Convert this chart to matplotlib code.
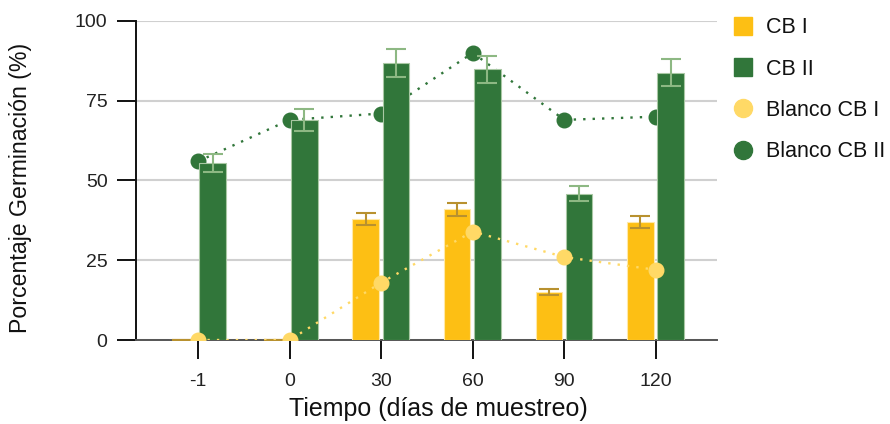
import matplotlib
matplotlib.use("Agg")
import matplotlib.pyplot as plt
from matplotlib.lines import Line2D
import numpy as np

plt.rcParams['font.family'] = ['Liberation Sans', 'DejaVu Sans']

# Sampling times (days) and germination percentages
categories = ["-1", "0", "30", "60", "90", "120"]
cb1 = [0, 0, 37.8, 41.0, 15.0, 37.0]
cb1_err = [0, 0, 1.9, 2.0, 0.85, 1.9]
cb2 = [55.5, 69.0, 86.7, 84.8, 45.9, 83.8]
cb2_err = [2.8, 3.4, 4.4, 4.2, 2.4, 4.2]
blanco_cb1 = [0, 0, 18, 34, 26, 22]
blanco_cb2 = [56, 69, 71, 90, 69, 70]
y_ticks = [0, 25, 50, 75, 100]

yellow = "#FDBF14"
green = "#31763A"
yellow_light = "#FFD966"
yellow_err = "#B8912F"
green_err = "#8DB883"

fig = plt.figure(figsize=(8.9, 4.24), dpi=100)
ax = fig.add_axes([0.1528, 0.1981, 0.6528, 0.7524])

x = np.arange(len(categories))
bw = 0.29
x_cb1 = x - 0.025 - bw / 2
x_cb2 = x + 0.015 + bw / 2

# Blanco CB II line sits behind the bars
ax.plot(x, blanco_cb2, linestyle=(0, (1, 3)), color=green, lw=1.7,
        marker="o", markersize=10.5, markerfacecolor=green,
        markeredgecolor=green, zorder=2)

ax.bar(x_cb1, cb1, width=bw, color=yellow,
       edgecolor="#FFE9A8", linewidth=0.8, zorder=3)
ax.bar(x_cb2, cb2, width=bw, color=green,
       edgecolor="#A9C8A4", linewidth=0.8, zorder=3)

ax.errorbar(x_cb1, cb1, yerr=cb1_err, fmt="none",
            ecolor=yellow_err, elinewidth=1.5, capsize=7, capthick=1.5,
            zorder=4)
ax.errorbar(x_cb2, cb2, yerr=cb2_err, fmt="none",
            ecolor=green_err, elinewidth=1.5, capsize=7, capthick=1.5,
            zorder=4)

# Blanco CB I line drawn over the bars
ax.plot(x, blanco_cb1, linestyle=(0, (1, 3)), color=yellow_light, lw=1.7,
        marker="o", markersize=10.5, markerfacecolor=yellow_light,
        markeredgecolor=yellow_light, zorder=5)

ax.set_xlim(-0.677, 5.666)
ax.set_ylim(0, 100)
ax.set_xticks(x)
ax.set_xticklabels(categories)
ax.set_yticks(y_ticks)
ax.yaxis.grid(True, color="#D0D0D0", lw=1.5)
ax.set_axisbelow(True)

for s in ["top", "right"]:
    ax.spines[s].set_visible(False)
ax.spines["left"].set_color("#111111")
ax.spines["left"].set_linewidth(1.4)
ax.spines["bottom"].set_color("#555555")
ax.spines["bottom"].set_linewidth(1.4)
ax.tick_params(axis="both", direction="out", length=13.5, width=1.4,
               color="#111111", labelsize=14, labelcolor="#222222")
ax.tick_params(axis="y", pad=7)
ax.tick_params(axis="x", pad=10.5)

ax.set_xlabel("Tiempo (días de muestreo)", fontsize=18, color="#111111")
ax.xaxis.set_label_coords(0.52, -0.178)
ax.set_ylabel("Porcentaje Germinación (%)", fontsize=16.7, color="#111111")
ax.yaxis.set_label_coords(-0.179, 0.478)

handles = [
    Line2D([], [], linestyle="none", marker="s", markersize=13,
           markerfacecolor=yellow, markeredgecolor=yellow),
    Line2D([], [], linestyle="none", marker="s", markersize=13,
           markerfacecolor=green, markeredgecolor=green),
    Line2D([], [], linestyle="none", marker="o", markersize=13,
           markerfacecolor=yellow_light, markeredgecolor=yellow_light),
    Line2D([], [], linestyle="none", marker="o", markersize=13,
           markerfacecolor=green, markeredgecolor=green),
]
labels = ["CB I", "CB II", "Blanco CB I", "Blanco CB II"]
fig.legend(handles, labels, loc="upper left",
           bbox_to_anchor=(0.8225, 0.9596), frameon=False, fontsize=15.5,
           labelspacing=0.95, handletextpad=0.6, handlelength=1.0,
           borderaxespad=0, borderpad=0, labelcolor="#111111")

fig.savefig("out.png", dpi=100)
